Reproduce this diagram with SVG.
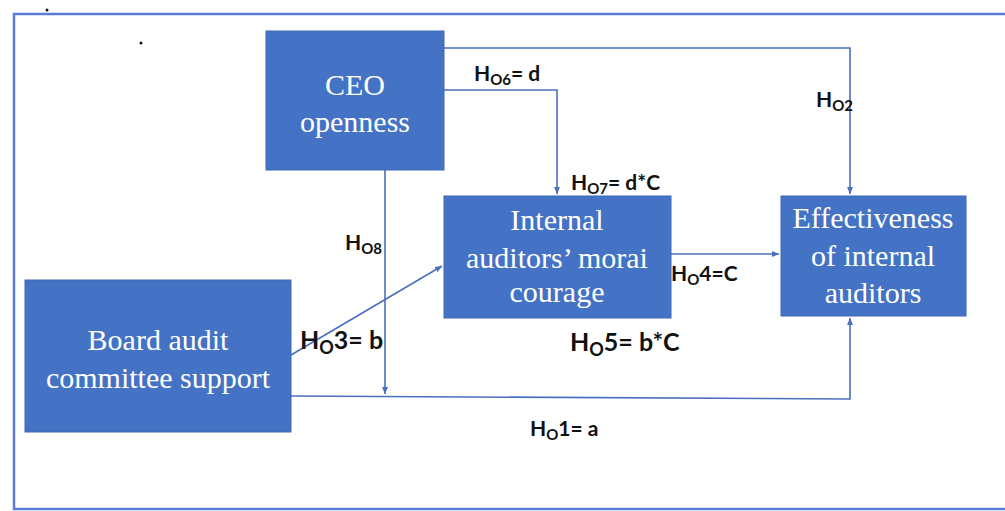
<svg xmlns="http://www.w3.org/2000/svg" width="1005" height="511" viewBox="0 0 1005 511">
<style>
.box{fill:#4472C4;stroke:#3f68b5;stroke-width:1}
.bt{font-family:"Liberation Serif",serif;font-size:30px;fill:#fff;text-anchor:middle}
.ln{fill:none;stroke:#4a6fc0;stroke-width:1.6}
.lb{font-family:Lato,"Liberation Sans",sans-serif;font-weight:bold;font-size:21px;fill:#111}
.big{font-size:25px}
.sub{font-size:15px}
.bsub{font-size:18px}
</style>
<defs>
<marker id="ar" markerWidth="8" markerHeight="8" refX="7" refY="4" orient="auto" markerUnits="userSpaceOnUse">
<path d="M0,1 L7,4 L0,7 Z" fill="#4a6fc0"/>
</marker>
</defs>
<rect width="1005" height="511" fill="#fff"/>
<rect x="14" y="14" width="1000" height="495" fill="none" stroke="#5b7bd5" stroke-width="2.5"/>
<circle cx="47" cy="10" r="1.5" fill="#111"/>
<circle cx="141" cy="43" r="1.5" fill="#111"/>

<g id="connectors">
<path class="ln" d="M444,48 H850 V194" marker-end="url(#ar)"/>
<path class="ln" d="M444,90 H557 V194" marker-end="url(#ar)"/>
<path class="ln" d="M385,170 V394" marker-end="url(#ar)"/>
<path class="ln" d="M291,355 L442,266" marker-end="url(#ar)"/>
<path class="ln" d="M291,396 L850,399 V318" marker-end="url(#ar)"/>
<path class="ln" d="M671,254 H779" marker-end="url(#ar)"/>
</g>

<g id="ceo">
<rect class="box" x="266" y="31" width="178" height="139"/>
<text class="bt" x="355" y="95">CEO</text>
<text class="bt" x="355" y="132">openness</text>
</g>
<g id="moral">
<rect class="box" x="444" y="196" width="227" height="122"/>
<text class="bt" x="557" y="230">Internal</text>
<text class="bt" x="557" y="268">auditors’ morai</text>
<text class="bt" x="557" y="302">courage</text>
</g>
<g id="effect">
<rect class="box" x="781" y="196" width="185" height="120"/>
<text class="bt" x="873" y="228">Effectiveness</text>
<text class="bt" x="873" y="266">of internal</text>
<text class="bt" x="873" y="303">auditors</text>
</g>
<g id="board">
<rect class="box" x="25" y="280" width="266" height="152"/>
<text class="bt" x="158" y="350">Board audit</text>
<text class="bt" x="158" y="388">committee support</text>
</g>

<g id="labels">
<text class="lb" x="474" y="81">H<tspan class="sub" dy="4">O6</tspan><tspan dy="-4">= d</tspan></text>
<text class="lb" x="816" y="107">H<tspan class="sub" dy="4">O2</tspan></text>
<text class="lb" x="571" y="190">H<tspan class="sub" dy="4">O7</tspan><tspan dy="-4">= d*C</tspan></text>
<text class="lb" x="345" y="250">H<tspan class="sub" dy="4">O8</tspan></text>
<text class="lb big" x="300" y="349">H<tspan class="bsub" dy="5">O</tspan><tspan dy="-5">3= b</tspan></text>
<text class="lb" x="671" y="281">H<tspan class="sub" dy="4">O</tspan><tspan dy="-4">4=C</tspan></text>
<text class="lb big" x="570" y="351">H<tspan class="bsub" dy="5">O</tspan><tspan dy="-5">5= b*C</tspan></text>
<text class="lb" x="530" y="436">H<tspan class="sub" dy="4">O</tspan><tspan dy="-4">1= a</tspan></text>
</g>
</svg>
